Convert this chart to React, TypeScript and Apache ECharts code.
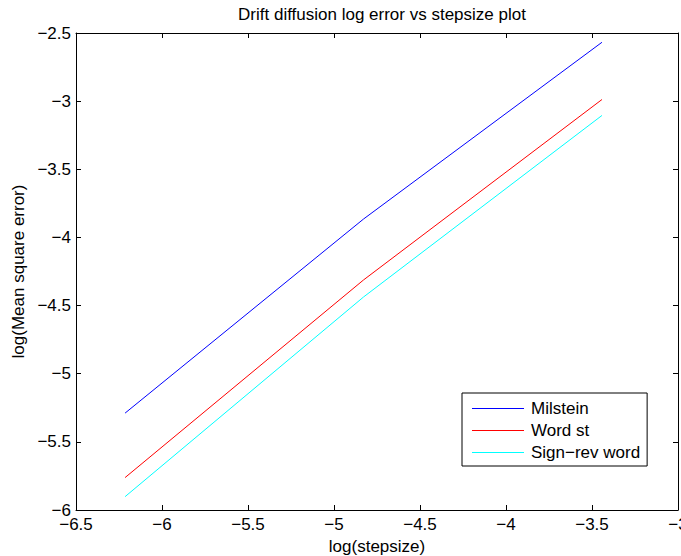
import React, { useEffect, useRef } from "react";
import * as echarts from "echarts";

const stepLog = [-6.2146, -4.8283, -3.442];
const milstein = [-5.289, -3.865, -2.568];
const wordSt = [-5.762, -4.312, -2.988];
const signRev = [-5.902, -4.437, -3.105];
const seriesNames = ["Milstein", "Word st", "Sign\u2212rev word"];
const seriesColors = ["#0000ff", "#ff0000", "#00ffff"];

const FONT = "Liberation Sans, Arial, Helvetica, sans-serif";
const fmt = (v: number) => String(v).replace("-", "\u2212");

export default function App() {
  const ref = useRef<HTMLDivElement>(null);
  useEffect(() => {
    document.body.style.margin = "0";
    if (!ref.current) return;
    const chart = echarts.init(ref.current, undefined, { renderer: "svg" });
    const data = [milstein, wordSt, signRev];
    const axisCommon = {
      type: "value" as const,
      axisLine: { show: true, onZero: false, lineStyle: { color: "#000", width: 1 } },
      axisTick: { show: true, inside: true, length: 5, lineStyle: { color: "#000" } },
      splitLine: { show: false },
    };
    chart.setOption({
      animation: false,
      backgroundColor: "#fff",
      title: {
        text: "Drift diffusion log error vs stepsize plot",
        left: 377,
        top: 1,
        textAlign: "center",
        textStyle: { fontFamily: FONT, fontSize: 17, fontWeight: "normal", color: "#000" },
      },
      grid: { left: 76, right: 3, top: 33, bottom: 46, containLabel: false, outerBoundsMode: "none" },
      legend: {
        orient: "vertical",
        left: 462,
        top: 393,
        backgroundColor: "#fff",
        borderColor: "#000",
        borderWidth: 1,
        borderRadius: 0,
        padding: [7, 7, 5, 10],
        itemGap: 5,
        itemWidth: 52,
        itemHeight: 17,
        icon: "path://M0,0H52V1.2H0Z",
        itemStyle: { borderWidth: 0 },
        textStyle: { fontFamily: FONT, fontSize: 17, color: "#000", padding: [0, 0, 0, 2] },
        data: seriesNames,
      },
      xAxis: [
        {
          ...axisCommon,
          position: "bottom",
          min: -6.5,
          max: -3,
          interval: 0.5,
          axisLabel: { formatter: fmt, fontFamily: FONT, fontSize: 17, color: "#000", margin: 6, showMaxLabel: true, showMinLabel: true },
          name: "log(stepsize)",
          nameLocation: "middle",
          nameGap: 25,
          nameTextStyle: { fontFamily: FONT, fontSize: 17, color: "#000" },
        },
        {
          ...axisCommon,
          position: "top",
          min: -6.5,
          max: -3,
          interval: 0.5,
          axisLabel: { show: false },
        },
      ],
      yAxis: [
        {
          ...axisCommon,
          position: "left",
          min: -6,
          max: -2.5,
          interval: 0.5,
          axisLabel: { formatter: fmt, fontFamily: FONT, fontSize: 17, color: "#000", margin: 5 },
          name: "log(Mean square error)",
          nameLocation: "middle",
          nameGap: 49,
          nameTextStyle: { fontFamily: FONT, fontSize: 17, color: "#000" },
        },
        {
          ...axisCommon,
          position: "right",
          min: -6,
          max: -2.5,
          interval: 0.5,
          axisLabel: { show: false },
        },
      ],
      series: seriesNames.map((name, i) => ({
        name,
        type: "line",
        xAxisIndex: 0,
        yAxisIndex: 0,
        symbol: "none",
        color: seriesColors[i],
        lineStyle: { color: seriesColors[i], width: 1 },
        data: stepLog.map((x, j) => [x, data[i][j]]),
      })),
    });
    return () => chart.dispose();
  }, []);
  return <div ref={ref} style={{ width: 681, height: 556 }} />;
}
